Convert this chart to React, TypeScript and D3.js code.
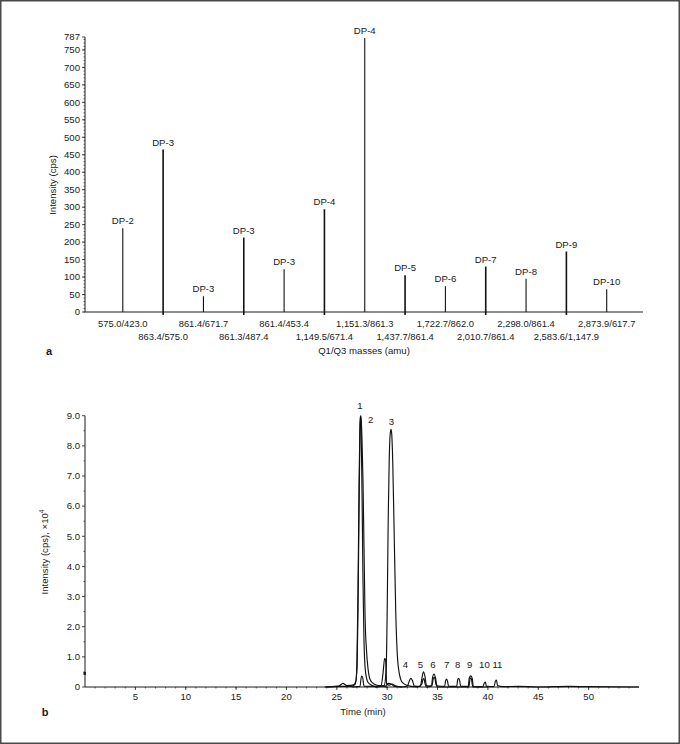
import React from 'react';
import * as d3 from 'd3';

// panel a: Q1/Q3 transitions and intensities
const transitions = [
  '575.0/423.0', '863.4/575.0', '861.4/671.7', '861.3/487.4', '861.4/453.4',
  '1,149.5/671.4', '1,151.3/861.3', '1,437.7/861.4', '1,722.7/862.0',
  '2,010.7/861.4', '2,298.0/861.4', '2,583.6/1,147.9', '2,873.9/617.7',
];
const dpNames = ['DP-2', 'DP-3', 'DP-3', 'DP-3', 'DP-3', 'DP-4', 'DP-4', 'DP-5', 'DP-6', 'DP-7', 'DP-8', 'DP-9', 'DP-10'];
const intensities = [240, 465, 45, 213, 122, 294, 784, 105, 74, 130, 95, 173, 65];
const yTicksA = [0, 50, 100, 150, 200, 250, 300, 350, 400, 450, 500, 550, 600, 650, 700, 750, 787];

// panel b: chromatogram traces [time (min), intensity x10^4]
const trace1: [number, number][] = [
  [23.8, 0], [25.0, 0.02], [26.5, 0.02], [26.9, 0.2], [27.0, 0.9], [27.1, 3.0], [27.2, 6.5],
  [27.3, 8.8], [27.35, 9.0], [27.4, 8.8], [27.5, 6.5], [27.6, 3.5], [27.7, 1.5], [27.85, 0.5],
  [28.1, 0.15], [28.5, 0.05], [29.0, 0],
];
const trace2: [number, number][] = [
  [23.9, 0], [25.2, 0.03], [25.6, 0.12], [26.0, 0.05], [26.8, 0.08], [27.0, 0.6], [27.15, 4.0],
  [27.3, 8.5], [27.4, 9.0], [27.5, 8.2], [27.6, 6.8], [27.7, 4.6], [27.8, 2.4], [27.95, 1.2],
  [28.1, 0.6], [28.3, 0.25], [28.6, 0.12], [29.0, 0.06], [29.5, 0.03], [30.0, 0],
];
const trace3: [number, number][] = [
  [29.0, 0], [29.7, 0.05], [29.9, 0.6], [30.0, 2.5], [30.1, 5.5], [30.2, 7.5], [30.3, 8.4],
  [30.38, 8.55], [30.45, 8.4], [30.55, 7.5], [30.7, 5.0], [30.85, 2.5], [31.0, 1.1],
  [31.2, 0.45], [31.5, 0.15], [32.0, 0.05], [33.0, 0],
];
const trace4: [number, number][] = [
  [28.8, 0], [29.4, 0.05], [29.6, 0.5], [29.75, 0.95], [29.85, 0.88], [29.95, 0.1],
  [30.2, 0.06], [30.5, 0.1], [30.8, 0.04], [31.5, 0],
];
const trace5: [number, number][] = [
  [26.5, 0], [27.3, 0.02], [27.45, 0.36], [27.55, 0.34], [27.7, 0.03], [29.8, 0.02],
  [30.1, 0.12], [30.4, 0.1], [30.7, 0.02], [31.5, 0],
];
const trace6: [number, number][] = [
  [31.5, 0], [32.0, 0.03], [32.2, 0.2], [32.35, 0.29], [32.5, 0.22], [32.7, 0.03], [33.3, 0.02],
  [33.45, 0.3], [33.6, 0.5], [33.75, 0.35], [33.9, 0.05], [34.4, 0.03], [34.5, 0.3], [34.65, 0.43],
  [34.8, 0.3], [34.95, 0.04], [35.7, 0.02], [35.8, 0.2], [35.9, 0.26], [36.0, 0.18], [36.1, 0.02],
  [36.9, 0.02], [37.0, 0.24], [37.1, 0.29], [37.2, 0.2], [37.3, 0.02], [38.05, 0.02], [38.15, 0.3],
  [38.3, 0.37], [38.45, 0.28], [38.55, 0.02], [39.5, 0.01], [39.65, 0.14], [39.75, 0.16],
  [39.85, 0.03], [40.6, 0.01], [40.75, 0.2], [40.85, 0.23], [40.95, 0.05], [41.5, 0.01],
  [43.0, 0.02], [45.0, 0], [48.0, 0.02], [50.0, 0.01], [55.0, 0],
];
const trace7: [number, number][] = [
  [33.0, 0], [33.45, 0.1], [33.55, 0.25], [33.65, 0.28], [33.75, 0.12], [33.9, 0], [34.45, 0.05],
  [34.6, 0.3], [34.7, 0.32], [34.85, 0.08], [35.0, 0], [38.1, 0], [38.25, 0.3], [38.35, 0.28],
  [38.5, 0], [40.0, 0],
];
const traces = [trace1, trace2, trace3, trace4, trace5, trace6, trace7];
const peakNumbers = ['1', '2', '3', '4', '5', '6', '7', '8', '9', '10', '11'];
const peakLabelTimes = [27.3, 28.35, 30.42, 31.8, 33.3, 34.55, 35.9, 37.0, 38.2, 39.65, 40.95];
const peakLabelLevels = [9.22, 8.76, 8.68, 0.63, 0.63, 0.63, 0.63, 0.63, 0.63, 0.63, 0.63];
const xTicksB = [5, 10, 15, 20, 25, 30, 35, 40, 45, 50];
const yTicksB = [0, 1, 2, 3, 4, 5, 6, 7, 8, 9];

const FONT = '"Liberation Sans", Arial, sans-serif';
const INK = '#1a1a1a';

export default function App() {
  // scales for panel a
  const xA = d3.scalePoint<string>().domain(transitions).range([86.5, 643]).padding(0.9);
  const yA = d3.scaleLinear().domain([0, 787]).range([312, 37]);
  const minorA = d3.range(0, 787, 10);

  // scales for panel b
  const xB = d3.scaleLinear().domain([0, 55]).range([85, 639]);
  const yB = d3.scaleLinear().domain([0, 9]).range([687, 415.7]);
  const minorXB = d3.range(1, 55, 1);
  const minorYB = d3.range(0.5, 9, 1);
  const line = d3.line<[number, number]>()
    .x(d => xB(d[0]))
    .y(d => yB(d[1]))
    .curve(d3.curveMonotoneX);

  return (
    <svg width={680} height={744} style={{ position: 'absolute', left: 0, top: 0, background: '#fff' }}
      fontFamily={FONT}>
      <rect x={0.75} y={0.75} width={678.5} height={742.5} fill="#fff" stroke="#4a4a4a" strokeWidth={1.5} />

      {/* ---------- panel a ---------- */}
      <g>
        <line x1={85} x2={85} y1={yA(0)} y2={yA(787)} stroke={INK} strokeWidth={1} />
        <line x1={85} x2={643} y1={yA(0)} y2={yA(0)} stroke={INK} strokeWidth={1} />
        {minorA.map(v => (
          <line key={'ma' + v} x1={83.5} x2={85} y1={yA(v)} y2={yA(v)} stroke={INK} strokeWidth={0.6} />
        ))}
        {yTicksA.map(v => (
          <g key={'ya' + v}>
            <line x1={82} x2={85} y1={yA(v)} y2={yA(v)} stroke={INK} strokeWidth={0.8} />
            <text x={80} y={yA(v)} dy="0.34em" textAnchor="end" fontSize={9.6} fill={INK}>{v}</text>
          </g>
        ))}
        <text transform={`translate(56,${185}) rotate(-90)`} textAnchor="middle" fontSize={9.6} fill={INK}>
          Intensity (cps)
        </text>

        {transitions.map((t, i) => (
          <g key={t}>
            <line x1={xA(t)} x2={xA(t)} y1={yA(0) + (i % 2 ? 3 : 0)} y2={yA(intensities[i])}
              stroke="#111" strokeWidth={i % 2 ? 1.6 : 1.1} />
            <text x={xA(t)} y={yA(intensities[i]) - 4} textAnchor="middle" fontSize={9.6} fill={INK}>
              {dpNames[i]}
            </text>
            <text x={xA(t)} y={i % 2 ? 340 : 327} textAnchor="middle" fontSize={9.4} fill={INK}>{t}</text>
          </g>
        ))}
        <text x={364} y={353.5} textAnchor="middle" fontSize={9.6} fill={INK}>Q1/Q3 masses (amu)</text>
        <text x={49} y={355} textAnchor="middle" fontSize={11} fontWeight="bold" fill={INK}>a</text>
      </g>

      {/* ---------- panel b ---------- */}
      <g>
        <line x1={85} x2={85} y1={yB(0)} y2={yB(9)} stroke={INK} strokeWidth={1} />
        <line x1={85} x2={639} y1={yB(0)} y2={yB(0)} stroke={INK} strokeWidth={1} />
        {minorYB.map(v => (
          <line key={'myb' + v} x1={83.5} x2={85} y1={yB(v)} y2={yB(v)} stroke={INK} strokeWidth={0.7} />
        ))}
        {yTicksB.map(v => (
          <g key={'yb' + v}>
            <line x1={82} x2={85} y1={yB(v)} y2={yB(v)} stroke={INK} strokeWidth={0.8} />
            <text x={80} y={yB(v)} dy="0.34em" textAnchor="end" fontSize={9.6} fill={INK}>
              {v === 0 ? '0' : d3.format('.1f')(v)}
            </text>
          </g>
        ))}
        {minorXB.map(v => (
          <line key={'mxb' + v} x1={xB(v)} x2={xB(v)} y1={yB(0)} y2={yB(0) + 1.5} stroke={INK} strokeWidth={0.7} />
        ))}
        {xTicksB.map(v => (
          <g key={'xb' + v}>
            <line x1={xB(v)} x2={xB(v)} y1={yB(0)} y2={yB(0) + 3} stroke={INK} strokeWidth={0.8} />
            <text x={xB(v)} y={700} textAnchor="middle" fontSize={9.6} fill={INK}>{v}</text>
          </g>
        ))}
        <rect x={83.5} y={yB(0.45) - 1.5} width={2.5} height={3} fill={INK} />
        <text transform={`translate(48,${552}) rotate(-90)`} textAnchor="middle" fontSize={9.6} fill={INK}>
          Intensity (cps), ×10<tspan dy={-4} fontSize={6.5}>4</tspan>
        </text>
        <text x={363} y={715} textAnchor="middle" fontSize={9.6} fill={INK}>Time (min)</text>
        <text x={45} y={716} textAnchor="middle" fontSize={11} fontWeight="bold" fill={INK}>b</text>

        {traces.map((tr, i) => (
          <path key={'tr' + i} d={line(tr) || ''} fill="none" stroke="#111" strokeWidth={1.15} />
        ))}
        {peakNumbers.map((n, i) => (
          <text key={'pk' + n} x={xB(peakLabelTimes[i])} y={yB(peakLabelLevels[i])} textAnchor="middle"
            fontSize={9.6} fill={INK}>{n}</text>
        ))}
      </g>
    </svg>
  );
}
